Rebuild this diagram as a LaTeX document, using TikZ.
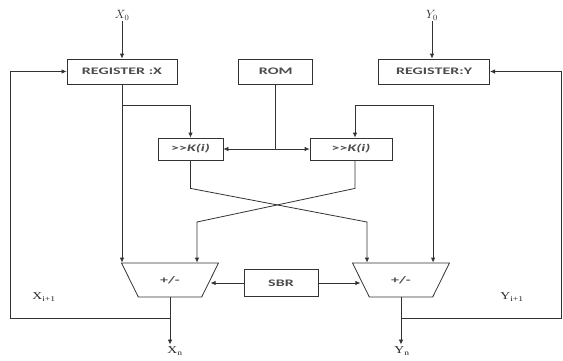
\documentclass[tikz,border=0pt]{standalone}
\usepackage{fontspec}
\usepackage{tikz}
\usetikzlibrary{shapes.geometric,arrows.meta,positioning,calc}

\newfontfamily\boxfont[FakeStretch=1.6]{Carlito}
\newfontfamily\labfont[FakeStretch=1.3]{Liberation Serif}

\begin{document}
\begin{tikzpicture}[
    x=1pt, y=-1pt,
    >={Latex[length=5pt,width=4.5pt]},
    block/.style={rectangle, draw=black!80, line width=0.8pt, text=black!70, font=\boxfont\bfseries\fontsize{10}{12}\selectfont, minimum height=25pt, inner sep=0pt},
    shifter/.style={block, minimum height=22pt},
    adder/.style={trapezium, shape border rotate=180, trapezium stretches=true, trapezium left angle=55, trapezium right angle=55, draw=black!80, line width=0.8pt, minimum width=97pt, minimum height=34pt, text=black!70, font=\boxfont\bfseries\fontsize{10}{12}\selectfont, inner sep=0pt},
    lab/.style={text=black!85, font=\labfont\fontsize{10.5}{12}\selectfont, inner sep=1pt},
    wire/.style={draw=black!80, line width=0.8pt},
    arrow/.style={wire, ->}
]
    \useasboundingbox (0,0) rectangle (563,360);

    % Registers and ROM
    \node[block, minimum width=110pt] (regx) at (122,71.5) {REGISTER :X};
    \node[block, minimum width=74pt, right=61pt of regx] (rom) {ROM};
    \node[block, minimum width=111pt, right=65pt of rom] (regy) {REGISTER:Y};

    % Shifters
    \node[shifter, minimum width=65pt] (shx) at (190.5,149) {>>\textit{K(i)}};
    \node[shifter, minimum width=82pt] (shy) at (351,149) {>>\textit{K(i)}};

    % Adders and SBR
    \node[adder] (addx) at (170,280) {+/-};
    \node[adder] (addy) at (401,280) {+/-};
    \node[block, minimum width=74pt, minimum height=27pt] (sbr) at (281,283) {SBR};

    % Labels
    \node[lab, font=\fontsize{12}{14}\selectfont] (x0) at (122,15) {$X_0$};
    \node[lab, font=\fontsize{12}{14}\selectfont] (y0) at (432,15) {$Y_0$};
    \node[lab] (xn) at (175,351) {X\textsubscript{n}};
    \node[lab] (yn) at (402,351) {Y\textsubscript{n}};
    \node[lab] (xnext) at (44,297) {X\textsubscript{i+1}};
    \node[lab] (ynext) at (512,297) {Y\textsubscript{i+1}};

    % Taps
    \coordinate (xtap) at (regx.south |- 0,105);
    \coordinate (ytap) at ([xshift=-1pt]regy.south |- 0,105);
    \coordinate (romtap) at (rom.south |- shx.east);
    \coordinate (xfb) at ($(addx.south)+(0,21)$);
    \coordinate (yfb) at ($(addy.south)+(0,21)$);

    % Arrows
    \draw[arrow] (x0) -- (regx);
    \draw[arrow] (y0) -- (y0 |- regy.north);
    \draw[wire] (rom.south) -- (romtap);
    \draw[arrow] (romtap) -- (shx.east);
    \draw[arrow] (romtap) -- (shy.west);
    \draw[arrow] (xtap) -| (shx.north);
    \draw[arrow] (ytap) -| ([xshift=4pt]shy.north);
    \draw[arrow] (regx.south) -- (regx.south |- addx.north);
    \draw[arrow] (ytap) -- (ytap |- addy.north);
    \draw[arrow] (shx.south) -- ++(0,28) -- (367,222) -- (367,222 |- addy.north);
    \draw[arrow] ([xshift=4pt]shy.south) -- ++(0,28) -- (197,222) -- (197,222 |- addx.north);
    \draw[arrow] (sbr.west) -- (sbr.west -| addx.east);
    \draw[arrow] (sbr.east) -- (sbr.east -| addy.west);
    \draw[arrow, shorten >=1pt] (addx.south) -- (addx.south |- xn.north);
    \draw[arrow, shorten >=1pt] (addy.south) -- (addy.south |- yn.north);
    \draw[arrow] (xfb) -- (xfb -| 10,0) |- (regx.west);
    \draw[arrow] (yfb) -- (yfb -| 561,0) |- (regy.east);
\end{tikzpicture}
\end{document}
